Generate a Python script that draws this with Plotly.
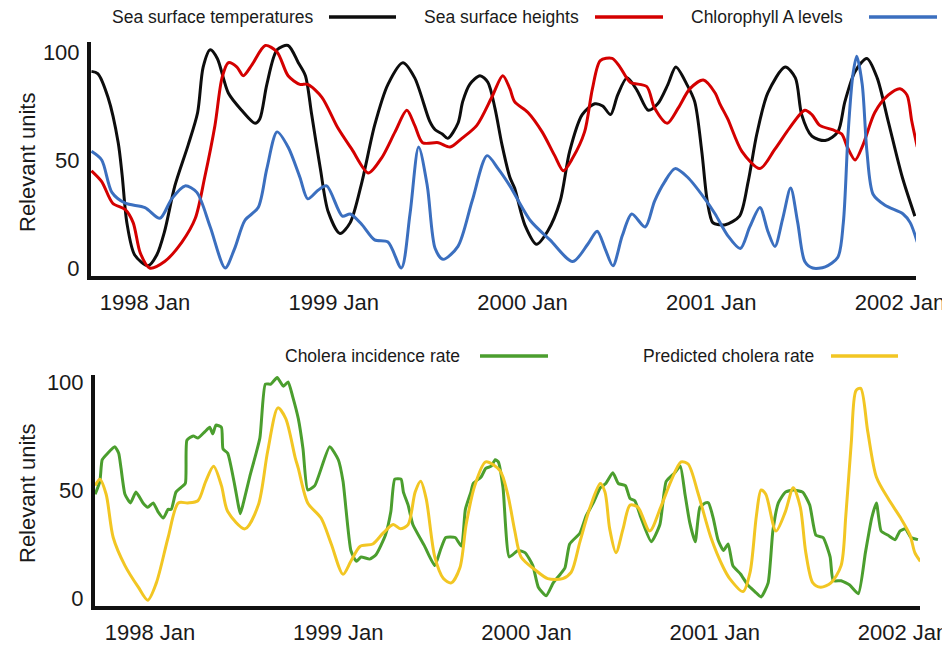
import plotly.graph_objects as go

# ---------------- data (x = months since Jan 1998, y = relevant units) ----------------
tick_months = [0, 12, 24, 36, 48]
tick_labels = ["1998 Jan", "1999 Jan", "2000 Jan", "2001 Jan", "2002 Jan"]

sst_month = [-3.4, -3.0, -2.35, -1.7, -1.45, -1.15, -0.65, 0.2, 0.75, 1.25, 1.9, 2.75, 3.35, 3.7, 4.15, 4.6,
             5.3, 6.15, 7.0, 7.3, 7.75, 8.4, 9.1, 9.75, 10.2, 10.6, 11.15, 11.65, 12.4, 13.05, 13.8, 14.6,
             15.45, 16.4, 17.15, 18.1, 18.45, 18.9, 19.25, 19.9, 20.2, 20.65, 21.3, 21.8, 22.25, 22.7, 23.2,
             23.5, 24.15, 24.9, 25.6, 26.4, 27.0, 27.8, 28.6, 29.1, 29.6, 30.05, 30.65, 31.3, 32.0, 32.6,
             33.25, 33.75, 34.45, 34.95, 35.4, 35.75, 36.1, 36.55, 36.9, 37.8, 38.35, 38.9, 39.6, 40.7,
             41.35, 41.75, 42.4, 43.25, 44.05, 44.5, 45.15, 45.9, 46.55, 47.25, 48.15, 48.95]
sst_value = [91, 90, 79, 58, 43, 21, 6, 1, 6, 17, 38, 57, 72, 93, 101, 97,
             81, 73, 67, 69, 85, 101, 103, 95, 89, 71, 46, 26, 16, 21, 40, 66,
             85, 95, 88, 68, 64, 62, 60, 67, 77, 85, 89, 86, 74, 57, 42,
             37, 20, 11, 17, 31, 54, 71, 76, 75, 71, 80, 88, 82, 73, 76,
             85, 93, 85, 77, 54, 31, 21, 20, 20, 24, 40, 62, 81, 93,
             88, 71, 61, 59, 63, 77, 91, 97, 88, 68, 42, 24]

ssh_month = [-3.4, -2.75, -2.05, -1.25, -0.75, -0.3, 0.3, 1.25, 2.35, 3.2, 3.8, 4.45, 4.9, 5.3, 5.85, 6.25,
             6.8, 7.65, 8.4, 9.1, 9.85, 10.35, 11.25, 12.25, 13.15, 14.2, 15.05, 15.9, 16.65, 17.15, 17.65,
             18.65, 19.4, 20.15, 21.1, 22.05, 22.75, 23.2, 23.5, 24.35, 25.25, 26.05, 26.6, 27.2, 27.95,
             28.45, 28.95, 29.7, 30.2, 30.85, 31.9, 32.4, 33.2, 33.9, 34.65, 35.5, 36.25, 36.55, 37.05,
             37.95, 39.1, 40.05, 41.0, 41.95, 42.4, 42.9, 43.7, 44.3, 44.65, 45.15, 45.65, 46.4, 47.25,
             48.0, 48.45, 48.75, 49.1]
ssh_value = [45, 40, 30, 27, 21, 7, 0, 3, 12, 23, 42, 66, 88, 95, 93, 89,
             94, 103, 100, 89, 85, 85, 79, 65, 55, 44, 51, 63, 73, 66, 58,
             58, 56, 60, 66, 79, 89, 83, 77, 72, 63, 52, 45, 51, 63,
             83, 96, 97, 93, 86, 84, 74, 67, 74, 83, 87, 81, 76, 69,
             54, 46, 55, 65, 73, 71, 66, 64, 62, 56, 50, 57, 72, 80,
             83, 80, 68, 56]

chl_month = [-3.4, -2.75, -2.1, -1.25, 0, 0.95, 1.7, 2.55, 3.3, 4.15, 5.1, 5.7, 6.35, 7.2, 7.75, 8.4, 9.1,
             9.85, 10.35, 11.0, 11.55, 12.55, 13.05, 13.8, 14.6, 15.45, 16.3, 16.85, 17.4, 17.95, 18.45,
             18.95, 19.9, 20.8, 21.75, 22.45, 23.2, 24.5, 25.75, 27.2, 28.15, 28.75, 29.25, 29.75, 30.35,
             30.95, 31.8, 32.4, 33.05, 33.7, 34.5, 35.6, 36.25, 37.05, 37.85, 38.45, 39.1, 39.6, 40.05,
             40.55, 41.05, 41.5, 41.95, 42.45, 43.25, 44.05, 44.4, 44.7, 45.0, 45.25, 45.6, 45.9, 46.3,
             47.05, 48.2, 48.65, 49.1]
chl_value = [54, 50, 35, 30, 28, 23, 32, 38, 35, 19, 0, 9, 22, 28, 46, 63, 56,
             42, 32, 36, 38, 24, 25, 20, 13, 12, 0, 25, 56, 38, 9,
             4, 10, 31, 52, 46, 38, 22, 13, 3, 11, 17, 9, 1, 15,
             25, 19, 31, 40, 46, 42, 32, 25, 15, 9, 19, 28, 17, 10,
             23, 37, 21, 3, 0, 0.5, 5, 21, 62, 89, 98, 85, 54, 34,
             29, 25, 21, 12]

cholera_month = [-3.5, -3.2, -3.05, -2.7, -2.25, -2.0, -1.85, -1.6, -1.25, -0.9, -0.45, -0.15, 0.2, 0.5,
                 0.85, 1.15, 1.35, 1.65, 1.95, 2.25, 2.35, 2.75, 3.05, 3.5, 3.8, 4.0, 4.2, 4.55, 4.65, 4.95,
                 5.4, 5.6, 5.75, 5.95, 6.35, 7.0, 7.35, 7.7, 8.1, 8.5, 8.8, 9.1, 9.45, 9.75, 10.05, 10.5,
                 11.45, 12.0, 12.3, 12.8, 13.15, 13.45, 14.0, 14.4, 15.0, 15.35, 15.6, 16.0, 16.15, 16.45,
                 16.75, 17.5, 18.15, 18.5, 18.85, 19.45, 19.85, 20.1, 20.45, 20.6, 21.1, 21.4, 21.75, 22.0,
                 22.2, 22.5, 22.9, 23.45, 23.9, 24.4, 24.75, 25.25, 25.7, 26.15, 26.45, 26.75, 27.4, 27.8,
                 28.25, 28.7, 29.05, 29.5, 29.85, 30.3, 30.6, 30.9, 31.3, 31.95, 32.5, 32.9, 33.45, 33.8,
                 34.1, 34.4, 34.75, 35.05, 35.4, 35.6, 35.9, 36.2, 36.55, 36.85, 37.15, 37.65, 38.1, 38.55,
                 38.95, 39.4, 39.7, 40.05, 40.5, 41.0, 41.6, 42.05, 42.45, 42.9, 43.35, 43.55, 44.05, 44.6,
                 45.15, 45.6, 46.0, 46.3, 46.6, 47.05, 47.5, 47.8, 48.15, 48.5, 48.95]
cholera_value = [48, 54, 64, 67, 70, 67, 60, 48, 44, 49, 44, 42, 44, 40,
                 37, 41, 41, 49, 51, 53, 73, 75, 74, 77, 79, 76, 80, 79, 69, 67,
                 52, 44, 39, 44, 56, 74, 99, 99, 102, 98, 100, 93, 83, 69, 50, 52,
                 70, 64, 54, 22, 17, 19, 18, 20, 29, 40, 55, 55, 49, 43,
                 34, 24, 15, 22, 28, 28, 24, 41, 49, 53, 56, 60, 61, 64,
                 63, 51, 19, 22, 21, 15, 5, 1, 7, 11, 14, 25, 30, 38,
                 44, 51, 53, 58, 53, 52, 46, 45, 37, 26, 34, 54, 58, 61,
                 48, 35, 26, 42, 44, 44, 37, 27, 22, 25, 15, 11, 6, 3,
                 0.5, 7, 31, 44, 49, 50, 49, 43, 29, 28, 19, 8, 8, 6,
                 2, 21, 37, 44, 31, 29, 27, 31, 32, 28, 27]

predicted_month = [-3.5, -3.2, -2.8, -2.35, -1.6, -0.75, -0.15, 0.4, 1.15, 1.8, 2.4, 3.05, 3.55, 4.05, 4.55,
                   4.95, 6.05, 6.9, 7.5, 8.15, 8.65, 9.25, 9.45, 10.05, 10.9, 11.55, 12.3, 12.8, 13.4, 14.2,
                   14.85, 15.5, 15.95, 16.45, 16.9, 17.25, 17.6, 18.15, 18.7, 19.2, 19.75, 20.15, 20.7, 21.4,
                   22.3, 22.8, 23.25, 23.65, 24.55, 25.35, 26.3, 26.85, 27.4, 28.05, 28.7, 29.0, 29.3, 29.7,
                   30.15, 30.6, 31.1, 31.85, 32.55, 33.2, 33.85, 34.3, 34.95, 35.75, 36.55, 36.95, 37.8,
                   38.25, 38.65, 38.95, 39.25, 39.9, 40.5, 41.0, 41.45, 41.8, 42.25, 42.75, 43.4, 44.05,
                   44.35, 44.7, 45.0, 45.3, 45.75, 46.3, 47.05, 47.85, 48.45, 48.75, 49.1]
predicted_value = [52, 55, 48, 28, 15, 5, -1, 7, 28, 44, 44, 45, 54, 61, 52,
                   40, 32, 43, 68, 88, 83, 65, 60, 44, 37, 25, 11, 17, 24, 25,
                   30, 34, 32, 34, 49, 54, 46, 19, 9, 7, 14, 34, 52, 63,
                   59, 48, 31, 19, 13, 9, 9, 12, 26, 42, 53, 49, 32, 21,
                   32, 43, 42, 31, 42, 54, 63, 62, 48, 28, 14, 9, 3,
                   12, 38, 50, 48, 31, 40, 51, 42, 21, 7, 5, 7, 15,
                   38, 72, 96, 97, 77, 56, 46, 37, 29, 21, 17]

# ---------------- styling ----------------
PAGE_W, PAGE_H = 950, 645
BODY = 8                         # default page margin around the plot div
W, H = PAGE_W - BODY, PAGE_H - BODY
FONT = "Liberation Sans, Arial, sans-serif"
TXT = "#1a1a1a"
C_BLACK, C_RED, C_BLUE = "#0d0d0d", "#d40000", "#3b6fbf"
C_GREEN, C_YELLOW = "#4b9e2e", "#f2c623"
LW = 3


def px(x):
    return (x - BODY) / W


def py(y):
    return (PAGE_H - y) / H


fig = go.Figure()

top_series = [(sst_month, sst_value, C_BLACK), (ssh_month, ssh_value, C_RED), (chl_month, chl_value, C_BLUE)]
for m, v, c in top_series:
    fig.add_trace(go.Scatter(x=m, y=v, mode="lines", xaxis="x", yaxis="y",
                             line=dict(color=c, width=LW, shape="spline", smoothing=0.8),
                             showlegend=False, hoverinfo="skip"))

bottom_series = [(cholera_month, cholera_value, C_GREEN), (predicted_month, predicted_value, C_YELLOW)]
for (m, v, c), sm in zip(bottom_series, (0.5, 0.8)):
    fig.add_trace(go.Scatter(x=m, y=v, mode="lines", xaxis="x2", yaxis="y2",
                             line=dict(color=c, width=LW, shape="spline", smoothing=sm),
                             showlegend=False, hoverinfo="skip"))

xcommon = dict(showline=True, linewidth=4, linecolor="#111", showgrid=False, zeroline=False,
               tickvals=tick_months, ticktext=tick_labels, ticks="", automargin=False,
               tickfont=dict(family=FONT, size=22, color=TXT), ticklabelstandoff=4, fixedrange=True)
ycommon = dict(showline=True, linewidth=4, linecolor="#111", showgrid=False, zeroline=False,
               tickvals=[0, 50, 100], ticks="", automargin=False,
               tickfont=dict(family=FONT, size=22, color=TXT), ticklabelstandoff=3, fixedrange=True)

fig.update_layout(
    width=W, height=H,
    margin=dict(l=0, r=0, t=0, b=0),
    paper_bgcolor="white", plot_bgcolor="white",
    showlegend=False,
    xaxis=dict(domain=[px(91), px(916)], range=[-3.43, 49.02], anchor="y", **xcommon),
    yaxis=dict(domain=[py(276), py(42)], range=[-3.7, 104.6], anchor="x", **ycommon),
    xaxis2=dict(domain=[px(95), px(920)], range=[-3.51, 49.08], anchor="y2", **xcommon),
    yaxis2=dict(domain=[py(606), py(375)], range=[-3.7, 103.2], anchor="x2", **ycommon),
)

# custom legends: label text followed by a line sample
legend_items = [
    ("Sea surface temperatures", C_BLACK, 111, 329, 396, 17),
    ("Sea surface heights", C_RED, 423, 595, 663, 17),
    ("Chlorophyll A levels", C_BLUE, 690, 869, 937, 17),
    ("Cholera incidence rate", C_GREEN, 284, 480, 548, 356),
    ("Predicted cholera rate", C_YELLOW, 642, 831, 898, 356),
]
for label, color, tx, l0, l1, yy in legend_items:
    fig.add_annotation(text=label, xref="paper", yref="paper", x=px(tx), y=py(yy),
                       xanchor="left", yanchor="middle", showarrow=False,
                       font=dict(family=FONT, size=17.5, color=TXT), borderpad=0)
    fig.add_shape(type="line", xref="paper", yref="paper", x0=px(l0), x1=px(l1),
                  y0=py(yy), y1=py(yy), line=dict(color=color, width=3.5))

for yc in (163, 494):
    fig.add_annotation(text="Relevant units", xref="paper", yref="paper", x=px(27), y=py(yc),
                       xanchor="center", yanchor="middle", textangle=-90, showarrow=False,
                       font=dict(family=FONT, size=22, color=TXT))

fig.write_html("out.html")
